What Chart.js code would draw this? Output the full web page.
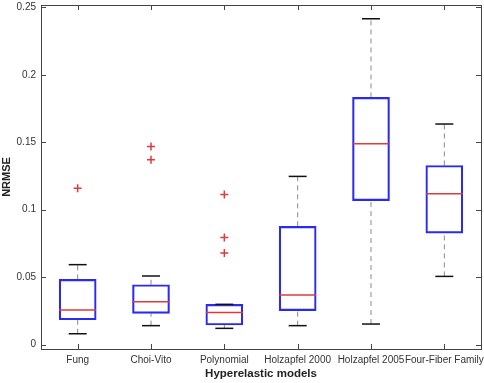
<!DOCTYPE html>
<html>
<head>
<meta charset="utf-8">
<script src="https://cdn.jsdelivr.net/npm/chart.js@4.4.0/dist/chart.umd.min.js"></script>
<style>
  html, body { margin: 0; padding: 0; background: #fff; }
  canvas { display: block; }
</style>
</head>
<body>
<canvas id="nrmseBox" width="484" height="383"></canvas>
<script>
// box plot values
const categories = ["Fung", "Choi-Vito", "Polynomial", "Holzapfel 2000", "Holzapfel 2005", "Four-Fiber Family"];
const lowerWhisker = [0.0081, 0.0141, 0.0121, 0.0141, 0.0153, 0.0506];
const q1 = [0.0185, 0.0232, 0.0146, 0.0252, 0.1067, 0.0827];
const medians = [0.0257, 0.0319, 0.0239, 0.0368, 0.1489, 0.1119];
const q3 = [0.0484, 0.0444, 0.0299, 0.0877, 0.1832, 0.1328];
const upperWhisker = [0.0593, 0.0509, 0.0299, 0.1247, 0.2415, 0.1635];
const outliers = [[0.116], [0.1469, 0.137], [0.1113, 0.0795, 0.0679], [], [], []];
const yTicks = [0, 0.05, 0.1, 0.15, 0.2, 0.25];
const xTicks = [1, 2, 3, 4, 5, 6];

const blue = "#2b2bf0";
const red = "#e03a3a";

// whiskers: two dashed segments per box, split with null
const whiskerData = [];
categories.forEach((c, i) => {
  whiskerData.push({ x: i + 1, y: q3[i] }, { x: i + 1, y: upperWhisker[i] }, { x: i + 1, y: null });
  whiskerData.push({ x: i + 1, y: lowerWhisker[i] }, { x: i + 1, y: q1[i] }, { x: i + 1, y: null });
});
const capData = [];
categories.forEach((c, i) => {
  capData.push({ x: i + 1, y: upperWhisker[i] }, { x: i + 1, y: lowerWhisker[i] });
});
const outlierData = [];
outliers.forEach((list, i) => list.forEach((v) => outlierData.push({ x: i + 1, y: v })));

// matlab style frame with inward ticks
const frame = {
  id: "frame",
  afterDatasetsDraw: (chart) => {
    const { ctx, chartArea: a, scales } = chart;
    ctx.save();
    ctx.strokeStyle = "#444";
    ctx.lineWidth = 1;
    ctx.strokeRect(Math.round(a.left) + 0.5, Math.round(a.top) + 0.5, Math.round(a.right - a.left), Math.round(a.bottom - a.top));
    ctx.beginPath();
    yTicks.forEach((v) => {
      const y = Math.round(scales.y.getPixelForValue(v)) + 0.5;
      ctx.moveTo(a.left, y); ctx.lineTo(a.left + 5, y);
      ctx.moveTo(a.right, y); ctx.lineTo(a.right - 5, y);
    });
    xTicks.forEach((v) => {
      const x = Math.round(scales.x.getPixelForValue(v)) + 0.5;
      ctx.moveTo(x, a.bottom); ctx.lineTo(x, a.bottom - 5);
      ctx.moveTo(x, a.top); ctx.lineTo(x, a.top + 5);
    });
    ctx.stroke();
    ctx.restore();
  },
};

new Chart(document.getElementById("nrmseBox").getContext("2d"), {
  type: "bar",
  data: {
    datasets: [
      {
        type: "scatter",
        label: "Outliers",
        data: outlierData,
        pointStyle: "cross",
        radius: 4,
        hoverRadius: 4,
        borderColor: red,
        borderWidth: 1.5,
        order: 1,
      },
      {
        type: "scatter",
        label: "Median",
        data: medians.map((m, i) => ({ x: i + 1, y: m })),
        pointStyle: "line",
        radius: 18.5,
        hoverRadius: 18.5,
        borderColor: red,
        borderWidth: 1.5,
        order: 2,
      },
      {
        type: "scatter",
        label: "Caps",
        data: capData,
        pointStyle: "line",
        radius: 9,
        hoverRadius: 9,
        borderColor: "#111",
        borderWidth: 1.5,
        order: 3,
      },
      {
        type: "bar",
        label: "Box",
        data: q1.map((v, i) => ({ x: i + 1, y: [v, q3[i]] })),
        barThickness: 37,
        backgroundColor: "rgba(0,0,0,0)",
        borderColor: blue,
        borderWidth: 1.5,
        borderSkipped: false,
        grouped: false,
        order: 4,
      },
      {
        type: "line",
        label: "Whiskers",
        data: whiskerData,
        borderColor: "#8a8a8a",
        borderWidth: 1,
        borderDash: [5, 4],
        pointRadius: 0,
        spanGaps: false,
        order: 5,
      },
    ],
  },
  plugins: [frame],
  options: {
    responsive: false,
    animation: false,
    layout: { autoPadding: false, padding: { top: 5, right: 3, left: 0, bottom: 0 } },
    plugins: {
      legend: { display: false },
      tooltip: { enabled: false },
    },
    scales: {
      x: {
        type: "linear",
        offset: false,
        min: 0.5,
        max: 6.5,
        afterBuildTicks: (s) => { s.ticks = xTicks.map((v) => ({ value: v })); },
        afterFit: (s) => {
          s.height = 34;
          s.paddingLeft = 0;
          s.paddingRight = 0;
        },
        grid: { display: false, drawTicks: false },
        border: { display: false },
        ticks: {
          autoSkip: false,
          maxRotation: 0,
          padding: 5,
          color: "#333",
          font: { family: "Liberation Sans", size: 10 },
          callback: (v) => categories[v - 1],
        },
        title: {
          display: true,
          text: "Hyperelastic models",
          color: "#222",
          font: { family: "Liberation Sans", size: 11.5, weight: "bold" },
          padding: { top: 0, bottom: 2 },
        },
      },
      y: {
        min: -0.0032,
        max: 0.2517,
        afterBuildTicks: (s) => { s.ticks = yTicks.map((v) => ({ value: v })); },
        afterFit: (s) => {
          s.width = 41;
          s.paddingTop = 0;
          s.paddingBottom = 0;
        },
        grid: { display: false, drawTicks: false },
        border: { display: false },
        ticks: {
          padding: 5,
          color: "#333",
          font: { family: "Liberation Sans", size: 10 },
          callback: (v) => String(v),
        },
        title: {
          display: true,
          text: "NRMSE",
          color: "#222",
          font: { family: "Liberation Sans", size: 11, weight: "bold" },
          padding: 0,
        },
      },
    },
  },
});
</script>
</body>
</html>
